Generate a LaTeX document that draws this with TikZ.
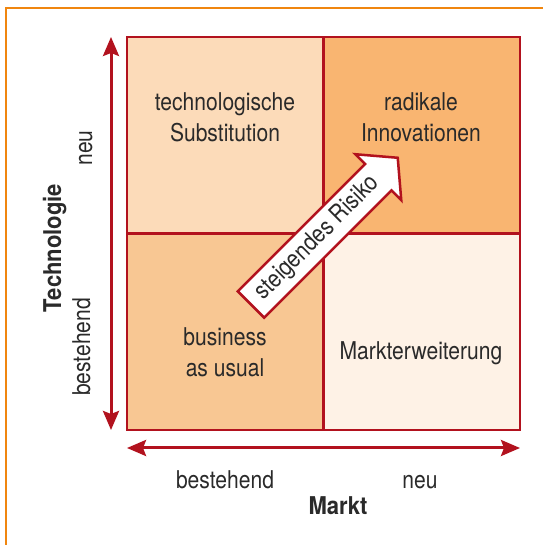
\documentclass[tikz,border=0pt]{standalone}
\usepackage{fontspec}
\setmainfont{TeX Gyre Heros}[FakeStretch=0.86, BoldFeatures={FakeStretch=0.9}]
\usepackage{xcolor}
\usetikzlibrary{arrows.meta}

\definecolor{rim}{HTML}{B2121E}
\definecolor{frameorange}{HTML}{F0860F}
\definecolor{ink}{HTML}{2A2A2A}
\definecolor{quadTL}{HTML}{FCDBB9}
\definecolor{quadTR}{HTML}{F9B571}
\definecolor{quadBL}{HTML}{F8C793}
\definecolor{quadBR}{HTML}{FEF2E6}

\begin{document}
\begin{tikzpicture}[x=1bp, y=1bp,
    quad/.style={draw=rim, line width=2.5bp, minimum width=196.5bp, minimum height=196.5bp, inner sep=0pt},
    txt/.style={text=ink, align=center, font=\fontsize{24.5bp}{31bp}\selectfont},
    axis/.style={rim, line width=3bp, {Stealth[length=19bp, width=16bp, inset=3bp]}-{Stealth[length=19bp, width=16bp, inset=3bp]}}]
        \useasboundingbox (0,0) rectangle (543,545);
        % orange frame, only top and left edge visible
        \draw[frameorange, line width=2.5bp] (6,0) -- (6,537) -- (543,537);

        % the four fields
        \node[quad, fill=quadTL] (tl) at (225.25,409.75) {};
        \node[quad, fill=quadTR] (tr) at (421.75,409.75) {};
        \node[quad, fill=quadBL] (bl) at (225.25,213.25) {};
        \node[quad, fill=quadBR] (br) at (421.75,213.25) {};

        \node[txt] (subst) at (225,428) {technologische\\Substitution};
        \node[txt] (innov) at (421,428) {radikale\\Innovationen};
        \node[txt] (usual) at (225,193) {business\\as usual};
        \node[txt] (erw) at (421,192) {Markterweiterung};

        % axes
        \coordinate (ytop) at (111,508);
        \coordinate (ybot) at (111,115);
        \coordinate (xl) at (127,97);
        \coordinate (xr) at (520,97);
        \draw[axis] (ybot) -- (ytop);
        \draw[axis] (xl) -- (xr);

        \node[txt, anchor=base] (xold) at (225,56) {bestehend};
        \node[txt, anchor=base] (xnew) at (420,56) {neu};
        \node[txt, anchor=base] (xname) at (338,30) {\bfseries Markt};
        \node[txt, anchor=base, rotate=90] (ynew) at (92,397) {neu};
        \node[txt, anchor=base, rotate=90] (yold) at (90,198) {bestehend};
        \node[txt, anchor=base, rotate=90] (yname) at (61,297) {\bfseries Technologie};

        % risk arrow
        \begin{scope}[shift={(251,240.5)}, rotate=45]
            \draw[rim, fill=white, line width=2.5bp, line join=miter]
                (0,-18.7) -- (180,-18.7) -- (180,-32.5) -- (207.5,0)
                -- (180,32.5) -- (180,18.7) -- (0,18.7) -- cycle;
            \node[txt, rotate=45] (risk) at (94,0) {steigendes Risiko};
        \end{scope}
\end{tikzpicture}
\end{document}
